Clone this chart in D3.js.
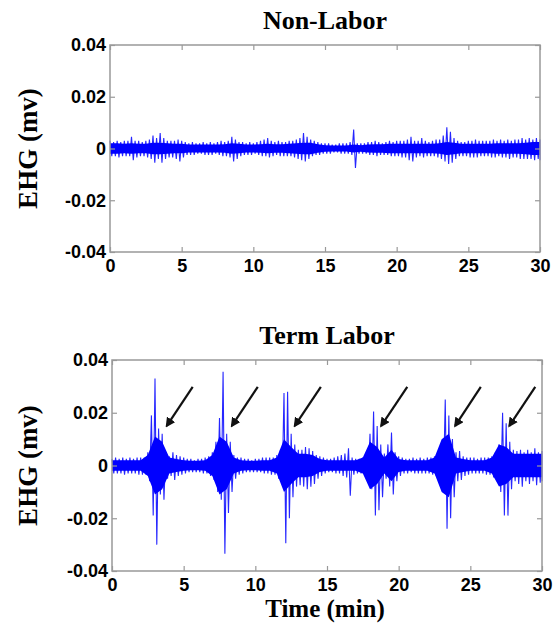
<!DOCTYPE html>
<html>
<head>
<meta charset="utf-8">
<script src="https://cdn.jsdelivr.net/npm/d3@7.9.0/dist/d3.min.js"></script>
<style>
  body { margin: 0; background: #fff; }
  svg { display: block; }
</style>
</head>
<body>
<svg id="chart" width="556" height="624"></svg>
<script>
// sampling steps of the series below (minutes)
const binMinutes = 0.25;
const coreMinutes = 0.5;

// axis ticks
const xTicks = [0, 5, 10, 15, 20, 25, 30];
const yTicks = [-0.04, -0.02, 0, 0.02, 0.04];
const yTickLabels = ['-0.04', '-0.02', '0', '0.02', '0.04'];

// signal envelopes, in units of 0.001 mv (one value per 0.25 min)
const nonLaborUpper = [3, 2.5, 3, 2.5, 3,
  3, 4.5, 3, 3,   2.5, 3, 3.5, 5,   4, 6, 4, 3,   3, 3, 3.5, 3,
  2.5, 2, 2.5, 2,   2, 2.5, 2, 2.5,   2, 2.5, 3, 2.5,   3, 4.5, 3.5, 2.5,
  2.5, 2, 2.5, 2,   2.5, 3, 3.5, 4,   3, 2.5, 3, 2.5,   2.5, 3, 3, 3.5,
  4, 6, 4.5, 3.5,   3, 2.5, 2, 2,   2, 1.5, 1.5, 2,   2, 2, 2.5, 7.3,
  2, 2, 2, 2.5,   2.5, 3, 2.5, 2,   2.5, 3, 2.5, 3,   3, 3, 3.5, 4.5,
  3, 3, 4, 3,   2.5, 3, 3.5, 3.5,   5, 8.2, 6.5, 4,   3, 2.5, 2.5, 3,
  3, 3.5, 3, 3,   3, 3, 3.5, 3,   3.5, 3, 3.5, 3,   3.5, 3.5, 4, 3.5,
  4, 3.5, 4, 3.5];
const nonLaborLower = [-3, -3, -3.5, -3, -3,
  -3, -4.5, -3.5, -3,   -3, -3.5, -4, -5.5,   -4, -5.5, -4, -3.5,   -3.5, -4, -5, -3.5,
  -2.5, -2.5, -2.5, -2,   -2, -2.5, -2.5, -2.5,   -2, -2.5, -3, -3,   -3.5, -5, -4, -3,
  -2.5, -2.5, -2.5, -2,   -2.5, -3, -3, -3.5,   -3, -2.5, -3, -3,   -3, -3, -3.5, -4,
  -4.5, -5, -4, -3,   -2.5, -2.5, -2, -2,   -2, -1.5, -1.5, -2,   -2, -2, -2.5, -7.5,
  -2, -2, -2, -2.5,   -2.5, -3, -2.5, -2.5,   -2.5, -3, -3, -3,   -3.5, -3.5, -4.5, -5,
  -3.5, -3, -3.5, -3,   -3, -3, -3.5, -4,   -5, -6, -5.5, -4,   -3, -3, -3, -3.5,
  -3.5, -3.5, -3, -3,   -3, -3.5, -3.5, -3,   -3.5, -3.5, -4, -3.5,   -3.5, -4, -4, -4,
  -4, -4.5, -4, -4.5];
// half-width of the dense core of the trace, 0.001 mv, one value per 0.5 min
const nonLaborCore = [2, 2, 1.8, 2, 1.8, 1.8, 2.2, 2.2, 2, 1.8,
  1.8, 1.5, 1.5, 1.5, 1.5, 1.5, 1.6, 2, 1.8, 1.5,
  1.5, 1.6, 1.8, 1.6, 1.6, 1.8, 2, 2.2, 2.2, 1.6,
  1.3, 1.2, 1.2, 1.2, 1.5, 1.3, 1.5, 1.6, 1.6, 1.8,
  1.8, 1.8, 1.8, 1.8, 1.8, 1.8, 2, 2.5, 2.2, 1.8,
  1.8, 1.8, 1.8, 1.8, 2, 2, 2, 2, 2.2, 2.5,
  2.5];

const termLaborUpper = [2.5, 3, 2.5, 3, 2.5,
  3, 2.5, 3, 3,   3, 5, 19, 33,   14, 12, 5, 3.5,   5, 4, 3.5, 3,
  2.5, 2.5, 2, 2.5,   2.5, 3, 3.5, 5,   9, 18, 35.5, 12,   9, 4, 3, 3,
  2.5, 2.5, 2, 2.5,   2.5, 3, 3, 3,   3, 4, 6, 27.5,   28, 12, 8, 6,
  6, 7, 6.5, 5.5,   4, 3.5, 3, 2.5,   2.5, 3, 3.5, 4,   4.5, 6.5, 3, 2.5,
  2.5, 3, 3.5, 12,   20.5, 15, 8, 4.5,   8, 12.5, 5, 3.5,   3, 2.5, 2.5, 3,
  2.5, 3, 2.5, 3,   3, 3.5, 4, 6,   25, 19, 10, 5,   5.5, 3.5, 3, 3,
  3, 2.5, 3, 3,   3, 3.5, 5, 8,   20, 16, 9, 6,   5.5, 6, 5, 6,
  5, 6.5, 5, 5.5];
const termLaborLower = [-3, -3, -3, -3.5, -3,
  -3, -3, -3.5, -3.5,   -3.5, -6, -19, -30,   -11, -13, -5, -4,   -5.5, -4, -3.5, -3,
  -2.5, -2.5, -2.5, -2.5,   -3, -3, -4, -5.5,   -10, -13, -33.5, -18,   -10, -5, -3.5, -3,
  -2.5, -2.5, -2.5, -2.5,   -2.5, -3, -3, -3.5,   -3.5, -5, -7, -29.5,   -20, -12, -8, -7.5,
  -8, -9, -8, -7,   -5, -4, -3, -2.5,   -2.5, -3, -3, -4,   -4.5, -11.5, -3.5, -3,
  -3, -3, -4, -9,   -19, -17, -12, -5,   -8, -11, -6, -4,   -3, -3, -2.5, -3,
  -3, -3, -3, -3,   -3.5, -4, -5, -7,   -24, -20, -12, -6,   -5.5, -4, -3.5, -3,
  -3, -3, -3, -3.5,   -3.5, -4.5, -6, -10,   -19, -19, -9, -6,   -7, -8, -6, -7,
  -6, -7.5, -6.5, -6];
const termLaborCore = [2, 2, 2, 2, 2, 4, 11, 9, 3, 2.5,
  2, 1.8, 1.8, 2, 4, 11, 9, 3, 2, 1.8,
  1.8, 2, 2, 3, 10, 7, 4.5, 4.5, 4, 2.5,
  2, 2, 2, 2, 2, 3, 9, 7, 3, 6,
  2.5, 2, 2, 2, 2, 3, 10, 12, 3, 2.5,
  2, 2, 2, 3, 8, 7, 4.5, 4.5, 4.5, 4.5,
  4.5];

// contraction arrows on the term labor panel: tail and head in data units (min, mv)
const arrowTails = [[5.63, 0.0298], [10.17, 0.0298], [14.57, 0.0298], [20.6, 0.0298], [25.73, 0.0298], [29.53, 0.0298]];
const arrowHeads = [[3.82, 0.015], [8.36, 0.015], [12.75, 0.015], [18.78, 0.015], [23.94, 0.015], [27.72, 0.015]];

const svg = d3.select('#chart');

const tickFont = '"Liberation Sans", Arial, sans-serif';
const labelFont = '"Liberation Serif", "Times New Roman", serif';

svg.append('defs').append('marker')
  .attr('id', 'arrowhead')
  .attr('viewBox', '0 0 10 10')
  .attr('refX', 8)
  .attr('refY', 5)
  .attr('markerWidth', 4.5)
  .attr('markerHeight', 4.5)
  .attr('orient', 'auto')
  .attr('markerUnits', 'strokeWidth')
  .append('path')
  .attr('d', 'M0,0 L10,5 L0,10 z')
  .attr('fill', '#111');

const panels = [
  { title: 'Non-Labor', upper: nonLaborUpper, lower: nonLaborLower, core: nonLaborCore,
    left: 110, right: 540, top: 45, bottom: 252, xLabel: null, arrows: false },
  { title: 'Term Labor', upper: termLaborUpper, lower: termLaborLower, core: termLaborCore,
    left: 112, right: 542, top: 360, bottom: 571, xLabel: 'Time (min)', arrows: true },
];

panels.forEach((p) => {
  const x = d3.scaleLinear().domain([0, 30]).range([p.left, p.right]);
  const y = d3.scaleLinear().domain([-0.04, 0.04]).range([p.bottom, p.top]);
  const g = svg.append('g');

  // dense core of the trace
  const coreArea = d3.area()
    .x((d, i) => x(i * coreMinutes))
    .y0((d) => y(-d / 1000))
    .y1((d) => y(d / 1000));

  g.append('path')
    .datum(p.core)
    .attr('d', coreArea)
    .attr('fill', '#0000ff');

  // signal: trace swings from each bin's max to its min, half a bin apart
  const trace = [];
  p.upper.forEach((u, i) => {
    trace.push([i * binMinutes, u / 1000]);
    if (i < p.upper.length - 1) trace.push([(i + 0.5) * binMinutes, p.lower[i] / 1000]);
  });
  trace.push([30, p.lower[p.lower.length - 1] / 1000]);

  const line = d3.line()
    .x((d) => x(d[0]))
    .y((d) => y(d[1]));

  g.append('path')
    .datum(trace)
    .attr('d', line)
    .attr('fill', 'none')
    .attr('stroke', '#0000ff')
    .attr('stroke-opacity', 0.85)
    .attr('stroke-width', 1.1)
    .attr('stroke-linejoin', 'miter');

  // axes, MATLAB style: box with inward ticks on all sides
  const styleAxis = (sel) => {
    sel.select('.domain').remove();
    sel.selectAll('.tick line').attr('stroke', '#999').attr('stroke-width', 1.2);
    sel.selectAll('.tick text')
      .attr('fill', '#000')
      .style('font-family', tickFont)
      .style('font-weight', 'bold')
      .style('font-size', '18px');
  };

  g.append('g')
    .attr('transform', `translate(0,${p.bottom})`)
    .call(d3.axisBottom(x).tickValues(xTicks).tickSize(-5).tickPadding(7).tickFormat(d3.format('d')))
    .call(styleAxis);
  g.append('g')
    .attr('transform', `translate(0,${p.top})`)
    .call(d3.axisTop(x).tickValues(xTicks).tickSize(-5).tickFormat(''))
    .call(styleAxis);
  g.append('g')
    .attr('transform', `translate(${p.left},0)`)
    .call(d3.axisLeft(y).tickValues(yTicks).tickSize(-5).tickPadding(4)
      .tickFormat((d, i) => yTickLabels[i]))
    .call(styleAxis);
  g.append('g')
    .attr('transform', `translate(${p.right},0)`)
    .call(d3.axisRight(y).tickValues(yTicks).tickSize(-5).tickFormat(''))
    .call(styleAxis);

  g.append('rect')
    .attr('x', p.left)
    .attr('y', p.top)
    .attr('width', p.right - p.left)
    .attr('height', p.bottom - p.top)
    .attr('fill', 'none')
    .attr('stroke', '#999')
    .attr('stroke-width', 1.5);

  // title
  g.append('text')
    .attr('x', (p.left + p.right) / 2)
    .attr('y', p.top - 16)
    .attr('text-anchor', 'middle')
    .style('font-family', labelFont)
    .style('font-weight', 'bold')
    .style('font-size', '26px')
    .text(p.title);

  // y label
  g.append('text')
    .attr('transform', `translate(37,${(p.top + p.bottom) / 2}) rotate(-90)`)
    .attr('text-anchor', 'middle')
    .style('font-family', labelFont)
    .style('font-weight', 'bold')
    .style('font-size', '27px')
    .text('EHG (mv)');

  if (p.xLabel) {
    g.append('text')
      .attr('x', (p.left + p.right) / 2 - 2)
      .attr('y', 617)
      .attr('text-anchor', 'middle')
      .style('font-family', labelFont)
      .style('font-weight', 'bold')
      .style('font-size', '25px')
      .text(p.xLabel);
  }

  if (p.arrows) {
    g.selectAll('line.arrow')
      .data(arrowTails)
      .join('line')
      .attr('class', 'arrow')
      .attr('x1', (d) => x(d[0]))
      .attr('y1', (d) => y(d[1]))
      .attr('x2', (d, i) => x(arrowHeads[i][0]))
      .attr('y2', (d, i) => y(arrowHeads[i][1]))
      .attr('stroke', '#111')
      .attr('stroke-width', 2.2)
      .attr('marker-end', 'url(#arrowhead)');
  }
});
</script>
</body>
</html>
